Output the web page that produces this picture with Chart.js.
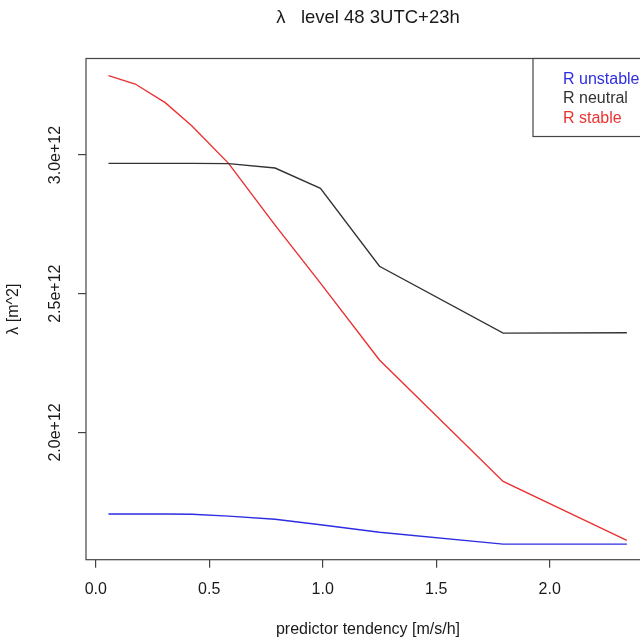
<!DOCTYPE html>
<html>
<head>
    <title>lambda level 48 3UTC+23h</title>
    <script src="https://cdn.jsdelivr.net/npm/chart.js"></script>
    <style>
        html, body {
            margin: 0;
            padding: 0;
            overflow: hidden;
            background: #ffffff;
        }
        canvas {
            display: block;
        }
    </style>
</head>
<body>
    <canvas id="lambdaChart" width="660" height="639"></canvas>

    <script>
    // predictor tendency bins (x) and lambda per stability class (y, m^2)
    const tendency = [0.056, 0.174, 0.306, 0.424, 0.585, 0.79, 0.99, 1.25, 1.795, 2.34];
    const unstable = [1.706e12, 1.706e12, 1.706e12, 1.705e12, 1.698e12, 1.687e12, 1.667e12, 1.640e12, 1.597e12, 1.597e12];
    const neutral  = [2.970e12, 2.970e12, 2.970e12, 2.970e12, 2.969e12, 2.953e12, 2.880e12, 2.599e12, 2.358e12, 2.359e12];
    const stable   = [3.286e12, 3.256e12, 3.189e12, 3.105e12, 2.970e12, 2.747e12, 2.538e12, 2.261e12, 1.823e12, 1.611e12];

    const seriesNames = ['R unstable', 'R neutral', 'R stable'];
    const seriesColors = ['rgb(45,45,225)', '#333333', 'rgb(235,50,50)'];

    const xTicks = [0.0, 0.5, 1.0, 1.5, 2.0];
    const yTicks = [2.0e12, 2.5e12, 3.0e12];

    Chart.defaults.font.family = '"Liberation Sans", Arial, sans-serif';
    Chart.defaults.font.size = 16;
    Chart.defaults.color = '#1a1a1a';

    function toPoints(values) {
        return tendency.map((x, i) => ({x: x, y: values[i]}));
    }

    // R style box round the plot region
    const plotBox = {
        id: 'plotBox',
        afterDraw(chart) {
            const a = chart.chartArea;
            const ctx = chart.ctx;
            ctx.save();
            ctx.strokeStyle = '#444444';
            ctx.lineWidth = 1.2;
            ctx.strokeRect(a.left, a.top, a.right - a.left, a.bottom - a.top);
            ctx.restore();
        }
    };

    // legend in the top right corner, text only, coloured like the lines
    const textLegend = {
        id: 'textLegend',
        afterDraw(chart) {
            const a = chart.chartArea;
            const ctx = chart.ctx;
            const boxLeft = a.right - 117;
            const boxBottom = a.top + 78;
            ctx.save();
            ctx.fillStyle = '#ffffff';
            ctx.fillRect(boxLeft, a.top, a.right - boxLeft, boxBottom - a.top);
            ctx.strokeStyle = '#444444';
            ctx.lineWidth = 1.2;
            ctx.strokeRect(boxLeft, a.top, a.right - boxLeft, boxBottom - a.top);
            ctx.font = '16px "Liberation Sans", Arial, sans-serif';
            ctx.textBaseline = 'middle';
            ctx.textAlign = 'left';
            chart.data.datasets.forEach((ds, i) => {
                ctx.fillStyle = ds.borderColor;
                ctx.fillText(ds.label, boxLeft + 30, a.top + 21 + i * 19.5);
            });
            ctx.restore();
        }
    };

    new Chart(document.getElementById('lambdaChart'), {
        type: 'line',
        data: {
            datasets: [unstable, neutral, stable].map((vals, i) => ({
                label: seriesNames[i],
                data: toPoints(vals),
                borderColor: seriesColors[i],
                borderWidth: 1.4,
                pointRadius: 0,
                fill: false,
                tension: 0
            }))
        },
        options: {
            responsive: false,
            animation: false,
            layout: {
                padding: {left: 0, right: 10, top: 0, bottom: 0}
            },
            plugins: {
                legend: {display: false},
                tooltip: {enabled: false},
                title: {
                    display: true,
                    text: 'λ   level 48 3UTC+23h',
                    fullSize: false,
                    color: '#1a1a1a',
                    font: {size: 18.5, weight: 'normal'},
                    padding: {top: 7, bottom: 29.3}
                }
            },
            scales: {
                x: {
                    type: 'linear',
                    min: -0.043,
                    max: 2.442,
                    afterBuildTicks: s => { s.ticks = xTicks.map(v => ({value: v})); },
                    afterFit: s => { s.height = 79.3; },
                    ticks: {
                        padding: 12,
                        maxRotation: 0,
                        autoSkip: false,
                        callback: v => v.toFixed(1)
                    },
                    grid: {
                        drawOnChartArea: false,
                        drawTicks: true,
                        tickLength: 8,
                        color: '#444444',
                        lineWidth: 1.2
                    },
                    border: {display: false},
                    title: {
                        display: true,
                        text: 'predictor tendency [m/s/h]',
                        padding: {top: 0, bottom: 0}
                    }
                },
                y: {
                    type: 'linear',
                    min: 1.541e12,
                    max: 3.348e12,
                    afterBuildTicks: s => { s.ticks = yTicks.map(v => ({value: v})); },
                    afterFit: s => { s.width = 86; },
                    ticks: {
                        minRotation: 90,
                        maxRotation: 90,
                        crossAlign: 'center',
                        padding: -7,
                        autoSkip: false,
                        callback: v => (v / 1e12).toFixed(1) + 'e+12'
                    },
                    grid: {
                        drawOnChartArea: false,
                        drawTicks: true,
                        tickLength: 8,
                        color: '#444444',
                        lineWidth: 1.2
                    },
                    border: {display: false},
                    title: {
                        display: true,
                        text: 'λ [m^2]',
                        padding: {top: 4.4, bottom: 0}
                    }
                }
            }
        },
        plugins: [plotBox, textLegend]
    });
    </script>
</body>
</html>
